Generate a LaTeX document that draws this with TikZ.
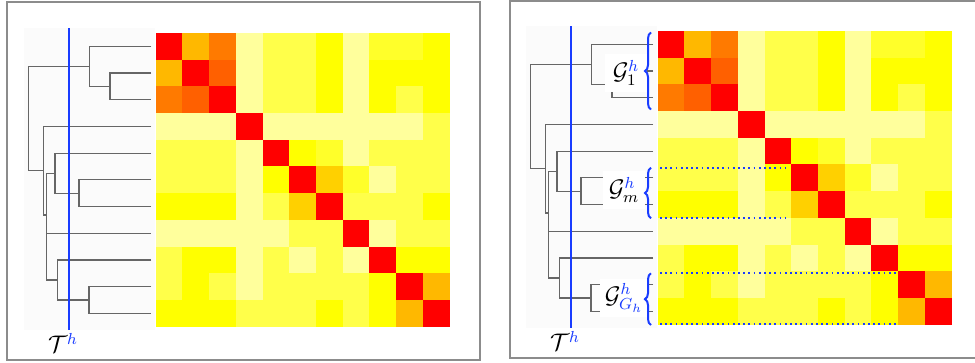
\documentclass[tikz,border=0pt]{standalone}
\usepackage{amsmath,amssymb}
\usepackage{tikz}
\usetikzlibrary{decorations.pathreplacing}
\definecolor{hmr}{HTML}{FF0000}
\definecolor{hma}{HTML}{FF6000}
\definecolor{hmb}{HTML}{FF7A00}
\definecolor{hmc}{HTML}{FFB800}
\definecolor{hmd}{HTML}{FFD000}
\definecolor{hmy}{HTML}{FFFF00}
\definecolor{hme}{HTML}{FFFF2A}
\definecolor{hmf}{HTML}{FFFF4A}
\definecolor{hmp}{HTML}{FFFF9C}
\definecolor{treeblue}{RGB}{25,60,255}

\begin{document}
\begin{tikzpicture}[x=0.5pt,y=-0.5pt,
  branch/.style={black!60,line width=0.6pt},
  cut/.style={treeblue,line width=0.9pt},
  panel/.style={black!45,line width=0.9pt},
  grp/.style={treeblue,line width=1pt,decorate,decoration={brace,amplitude=3pt}},
  rowcut/.style={treeblue,line width=0.9pt,dash pattern=on 0.9pt off 1.7pt},
  glabel/.style={fill=white,font=\large,minimum width=21pt,minimum height=19pt}]
\tikzstyle{every node}+=[inner sep=0pt]
\useasboundingbox (0,0) rectangle (975,363);
% frames
\draw [panel] (7.3,1.7) rectangle (480,360.3);
\draw [panel] (510,0.7) rectangle (990,358);
% both panels: matrix, tree and cut
\foreach \dx/\dy in {0/0,502/-2} {
\begin{scope}[shift={(\dx,\dy)}]
  \fill [black!1.5] (24,28) rectangle (155,330);
  \foreach \row [count=\i] in {{r,c,b,p,f,f,y,p,e,e,y},{c,r,a,p,f,f,y,p,y,y,y},
      {b,a,r,p,f,f,y,p,y,f,y},{p,p,p,r,p,p,p,p,p,p,f},{f,f,f,p,r,y,e,p,f,f,f},
      {f,f,f,p,y,r,d,e,p,f,f},{y,y,y,p,f,d,r,f,f,f,y},{p,p,p,p,p,f,f,r,p,f,f},
      {f,y,y,p,f,p,f,p,r,y,y},{f,y,f,p,f,f,f,f,y,r,c},{y,y,y,f,f,f,y,f,y,c,r}} {
    \foreach \c [count=\j] in \row
      \fill [fill=hm\c] (155.7+26.7*\j-26.7,33+26.7*\i-26.7) rectangle +(26.8,26.8);
  }
  % leaves
  \foreach \i in {1,...,11}
    \coordinate (l\i) at (151,33+26.7*\i-13.35);
  \coordinate (n23) at (110,86.4);
  \coordinate (n123) at (89.3,66.4);
  \coordinate (n67) at (79,193.2);
  \coordinate (n567) at (55,173.2);
  \coordinate (n1011) at (89,300);
  \coordinate (n91011) at (57.3,280);
  \coordinate (n8) at (46.7,215);
  \coordinate (n4) at (43.3,170.7);
  \coordinate (nroot) at (28.3,118.6);
  \draw [branch] (l2) -| (n23) |- (l3);
  \draw [branch] (l1) -| (n123) |- (n23);
  \draw [branch] (l6) -| (n67) |- (l7);
  \draw [branch] (l5) -| (n567) |- (n67);
  \draw [branch] (l10) -| (n1011) |- (l11);
  \draw [branch] (l9) -| (n91011) |- (n1011);
  \draw [branch] (n567) -| (n8) |- (n91011);
  \draw [branch] (n8 |- l8) -- (l8);
  \draw [branch] (l4) -| (n4) |- (n8);
  \draw [branch] (n123) -| (nroot) |- (n4);
  % cut level
  \draw [cut] (69.3,28.3) -- (69.3,330);
  \node [font=\large] (tlab\dx) at (63,343) {$\mathcal{T}^{\textcolor{treeblue}{h}}$};
\end{scope}
}
% groups in the right panel
\node [glabel] (g1) at (626,73) {$\mathcal{G}^{\textcolor{treeblue}{h}}_1$};
\node [glabel] (gm) at (624,190) {$\mathcal{G}^{\textcolor{treeblue}{h}}_m$};
\node [glabel,minimum width=24pt] (gg) at (624,298) {$\mathcal{G}^{\textcolor{treeblue}{h}}_{\textcolor{treeblue}{G_h}}$};
\draw [grp] (651,109.5) -- (651,32.5);
\draw [grp] (651,218.3) -- (651,167.7);
\draw [grp] (651,325) -- (651,273.3);
\draw [rowcut] (660,167.7) -- (786,167.7);
\draw [rowcut] (660,217.7) -- (786,217.7);
\draw [rowcut] (660,273.3) -- (897,273.3);
\draw [rowcut] (660,324) -- (897,324);
\end{tikzpicture}
\end{document}
